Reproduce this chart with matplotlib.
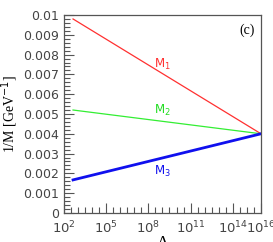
import matplotlib
matplotlib.use("Agg")
import matplotlib.pyplot as plt
import numpy as np
from matplotlib.ticker import FixedLocator, FuncFormatter, MultipleLocator, NullFormatter

# scale Lambda in GeV (log10) and inverse masses 1/M in GeV^-1
log_lambda = [2.65, 16.0]
inv_m1 = [0.0098, 0.0040]
inv_m2 = [0.0052, 0.0040]
inv_m3 = [0.00167, 0.0040]
labels = ["M$_1$", "M$_2$", "M$_3$"]
x_tick_exps = [2, 5, 8, 11, 14, 16]

GRAY = "#555555"


def main():
    fig = plt.figure(figsize=(2.73, 2.42), dpi=100)
    ax = fig.add_axes([0.234, 0.12, 0.722, 0.818])

    lam = 10.0 ** np.array(log_lambda)
    ax.plot(lam, inv_m1, color="#ff3030", lw=0.9)
    ax.plot(lam, inv_m2, color="#33ee33", lw=0.9)
    ax.plot(lam, inv_m3, color="#1010ee", lw=2.0)

    ax.set_xscale("log")
    ax.set_xlim(1e2, 1e16)
    ax.set_ylim(0, 0.01)

    ax.xaxis.set_major_locator(FixedLocator([10.0 ** e for e in x_tick_exps]))
    ax.xaxis.set_minor_locator(FixedLocator([10.0 ** e for e in np.arange(2, 16.01, 0.5)]))
    ax.xaxis.set_major_formatter(
        FuncFormatter(lambda v, p: r"$\mathregular{10^{%d}}$" % round(np.log10(v)))
    )
    ax.xaxis.set_minor_formatter(NullFormatter())
    ax.yaxis.set_major_locator(MultipleLocator(0.001))
    ax.yaxis.set_minor_locator(MultipleLocator(0.0002))
    ax.yaxis.set_major_formatter(
        FuncFormatter(lambda v, p: "0" if abs(v) < 1e-12 else ("%.3f" % v).rstrip("0"))
    )
    ax.yaxis.set_minor_formatter(NullFormatter())

    ax.tick_params(which="both", direction="in", color=GRAY, labelcolor="#444444",
                   labelsize=9, top=False, right=False)
    ax.tick_params(which="major", length=7, width=0.8)
    ax.tick_params(which="minor", length=4, width=0.8)
    ax.tick_params(axis="x", which="major", pad=5, labelsize=9.5)
    for s in ax.spines.values():
        s.set_color(GRAY)
        s.set_linewidth(0.9)

    ax.text(1e9, 0.0075, labels[0], color="#ff3030", fontsize=8.5, ha="center", va="center")
    ax.text(1e9, 0.0052, labels[1], color="#22dd22", fontsize=8.5, ha="center", va="center")
    ax.text(1e9, 0.0021, labels[2], color="#1010ee", fontsize=8.5, ha="center", va="center")
    ax.text(0.97, 0.955, "(c)", transform=ax.transAxes, ha="right", va="top",
            family="Liberation Serif", fontsize=10)

    ax.set_ylabel("1/M [GeV$^{-1}$]", family="Liberation Serif", fontsize=10,
                  labelpad=2)
    ax.set_xlabel("Λ", family="Liberation Serif", fontsize=12, labelpad=-1)

    fig.savefig("out.png", dpi=100)


if __name__ == "__main__":
    main()
